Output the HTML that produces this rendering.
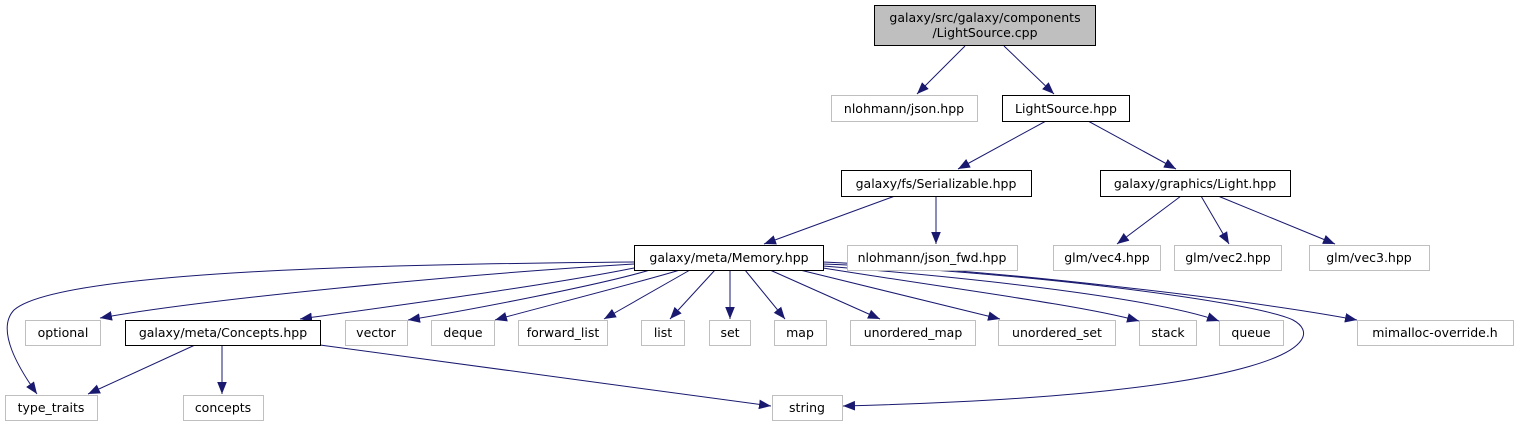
<!DOCTYPE html>
<html><head><meta charset="utf-8"><style>
body{margin:0;background:#fff;width:1518px;height:425px;overflow:hidden}
svg text{font-family:"DejaVu Sans","Liberation Sans",sans-serif;font-size:12.5px;text-anchor:middle}
</style></head><body>
<svg width="1518" height="425" xmlns="http://www.w3.org/2000/svg">
<defs><marker id="a" viewBox="0 0 10 10" refX="10" refY="5" markerWidth="12" markerHeight="12" markerUnits="userSpaceOnUse" orient="auto"><path d="M0,1 L10,5 L0,9z" fill="#191970"/></marker></defs>
<g fill="none" stroke="#191970" stroke-width="1" marker-end="url(#a)">
<path d="M965,46 L917,94"/>
<path d="M1004,46 L1054,94"/>
<path d="M1046,121 L958,169"/>
<path d="M1088,121 L1176,169"/>
<path d="M895,196 L764,244"/>
<path d="M936,196 L936,244"/>
<path d="M1181,196 L1117,244"/>
<path d="M1201,196 L1229,244"/>
<path d="M1218,196 L1335,244"/>
<path d="M634,262 C400,264 60,270 14,310 C-5,330 20,370 37,394"/>
<path d="M634,264 C450,275 200,300 100,318"/>
<path d="M634,268 C550,285 400,305 300,319"/>
<path d="M650,270 C600,285 470,310 408,320"/>
<path d="M680,270 C630,285 530,310 495,320"/>
<path d="M690,270 L604,319"/>
<path d="M715,270 L670,319"/>
<path d="M730,270 L730,319"/>
<path d="M745,270 L785,319"/>
<path d="M770,270 L880,319"/>
<path d="M800,270 L1000,319"/>
<path d="M823,268 C960,290 1080,305 1139,321"/>
<path d="M823,266 C1000,280 1160,300 1219,321"/>
<path d="M823,264 C1000,270 1250,300 1293,320 C1330,340 1290,395 843,406"/>
<path d="M823,262 C1000,270 1250,300 1357,320"/>
<path d="M195,345 L88,394"/>
<path d="M222,345 L222,394"/>
<path d="M320,345 L771,406"/>
</g>
<g stroke-width="1">
<rect x="874.5" y="5.5" width="221" height="40" fill="#bfbfbf" stroke="#000"/>
<g fill="#fff" stroke="#000">
<rect x="1002.5" y="95.5" width="127" height="26"/>
<rect x="841.5" y="170.5" width="190" height="26"/>
<rect x="1100.5" y="170.5" width="190" height="26"/>
<rect x="634.5" y="245.5" width="189" height="25"/>
<rect x="125.5" y="320.5" width="195" height="25"/>
</g>
<g fill="#fff" stroke="#bfbfbf">
<rect x="831.5" y="95.5" width="146" height="26"/>
<rect x="847.5" y="245.5" width="170" height="25"/>
<rect x="1053.5" y="245.5" width="107" height="25"/>
<rect x="1174.5" y="245.5" width="107" height="25"/>
<rect x="1309.5" y="245.5" width="120" height="25"/>
<rect x="25.5" y="320.5" width="75" height="25"/>
<rect x="345.5" y="320.5" width="62" height="25"/>
<rect x="431.5" y="320.5" width="63" height="25"/>
<rect x="518.5" y="320.5" width="89" height="25"/>
<rect x="641.5" y="320.5" width="43" height="25"/>
<rect x="709.5" y="320.5" width="41" height="25"/>
<rect x="774.5" y="320.5" width="52" height="25"/>
<rect x="850.5" y="320.5" width="125" height="25"/>
<rect x="998.5" y="320.5" width="117" height="25"/>
<rect x="1139.5" y="320.5" width="57" height="25"/>
<rect x="1219.5" y="320.5" width="64" height="25"/>
<rect x="1357.5" y="320.5" width="156" height="25"/>
<rect x="5.5" y="395.5" width="92" height="25"/>
<rect x="183.5" y="395.5" width="80" height="25"/>
<rect x="772.5" y="395.5" width="70" height="25"/>
</g>
</g>
<g fill="#000">
<text x="985" y="22">galaxy/src/galaxy/components</text>
<text x="985" y="37">/LightSource.cpp</text>
<text x="904" y="113">nlohmann/json.hpp</text>
<text x="1066" y="113">LightSource.hpp</text>
<text x="936" y="188">galaxy/fs/Serializable.hpp</text>
<text x="1195" y="188">galaxy/graphics/Light.hpp</text>
<text x="729" y="262">galaxy/meta/Memory.hpp</text>
<text x="932" y="262">nlohmann/json_fwd.hpp</text>
<text x="1107" y="262">glm/vec4.hpp</text>
<text x="1228" y="262">glm/vec2.hpp</text>
<text x="1369" y="262">glm/vec3.hpp</text>
<text x="63" y="337">optional</text>
<text x="223" y="337">galaxy/meta/Concepts.hpp</text>
<text x="376" y="337">vector</text>
<text x="463" y="337">deque</text>
<text x="563" y="337">forward_list</text>
<text x="663" y="337">list</text>
<text x="730" y="337">set</text>
<text x="800" y="337">map</text>
<text x="913" y="337">unordered_map</text>
<text x="1057" y="337">unordered_set</text>
<text x="1168" y="337">stack</text>
<text x="1251" y="337">queue</text>
<text x="1435" y="337">mimalloc-override.h</text>
<text x="51" y="412">type_traits</text>
<text x="223" y="412">concepts</text>
<text x="807" y="412">string</text>
</g>
</svg>
</body></html>
